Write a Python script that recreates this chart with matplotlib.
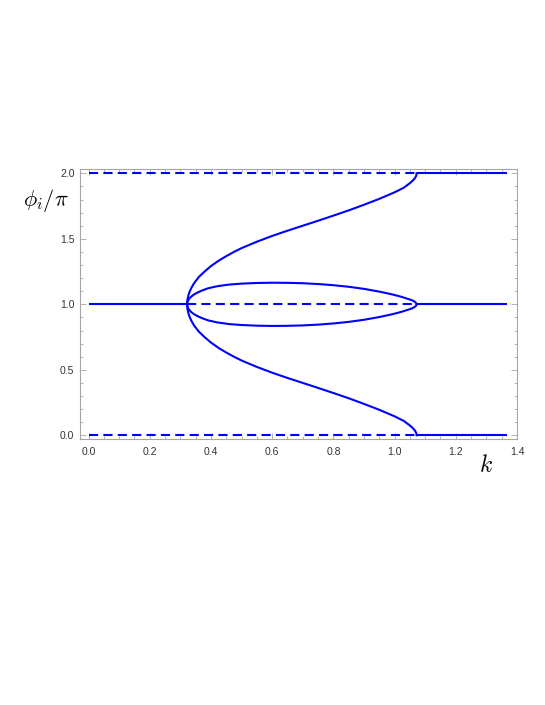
import matplotlib
matplotlib.use("Agg")
import matplotlib.pyplot as plt
from matplotlib.ticker import MultipleLocator

plt.rcParams['mathtext.fontset'] = 'cm'

# ---- data ----
k_bif = 0.322     # pitchfork point
k_end = 1.072     # end of loop / outer branches
k_max = 1.366

# outer upper branch
k_outer_up = [0.322, 0.323, 0.326, 0.330, 0.336, 0.345, 0.360, 0.380, 0.400, 0.425, 0.450,
              0.475, 0.500, 0.550, 0.600, 0.650, 0.700, 0.750, 0.800, 0.850, 0.900, 0.950,
              1.000, 1.030, 1.050, 1.060, 1.066, 1.070, 1.0715, 1.072]
phi_outer_up = [1.000, 1.034, 1.067, 1.095, 1.126, 1.162, 1.208, 1.252, 1.292, 1.333, 1.368,
                1.400, 1.429, 1.478, 1.522, 1.562, 1.600, 1.638, 1.677, 1.717, 1.760, 1.805,
                1.855, 1.890, 1.925, 1.946, 1.962, 1.978, 1.990, 2.000]
# outer lower branch
k_outer_lo = [0.322, 0.323, 0.326, 0.330, 0.336, 0.345, 0.360, 0.380, 0.400, 0.425, 0.450,
              0.475, 0.500, 0.550, 0.600, 0.650, 0.700, 0.750, 0.800, 0.850, 0.900, 0.950,
              1.000, 1.030, 1.050, 1.060, 1.066, 1.070, 1.0715, 1.072]
phi_outer_lo = [1.000, 0.966, 0.933, 0.905, 0.874, 0.838, 0.792, 0.748, 0.708, 0.667, 0.632,
                0.600, 0.571, 0.522, 0.478, 0.438, 0.400, 0.362, 0.323, 0.283, 0.240, 0.195,
                0.145, 0.110, 0.075, 0.054, 0.038, 0.022, 0.010, 0.000]

# inner loop (upper half)
k_inner_up = [0.322, 0.323, 0.325, 0.328, 0.332, 0.338, 0.346, 0.356, 0.370, 0.390, 0.420,
              0.460, 0.500, 0.550, 0.600, 0.650, 0.700, 0.750, 0.800, 0.850, 0.900,
              0.950, 0.990, 1.020, 1.040, 1.055, 1.063, 1.068, 1.0705, 1.0715, 1.072]
phi_inner_up = [1.000, 1.016, 1.028, 1.040, 1.051, 1.064, 1.077, 1.090, 1.105, 1.122, 1.138,
                1.151, 1.158, 1.163, 1.165, 1.164, 1.161, 1.155, 1.146, 1.134, 1.118,
                1.097, 1.077, 1.059, 1.044, 1.033, 1.024, 1.016, 1.009, 1.004, 1.000]
# inner loop (lower half)
k_inner_lo = [0.322, 0.323, 0.325, 0.328, 0.332, 0.338, 0.346, 0.356, 0.370, 0.390, 0.420,
              0.460, 0.500, 0.550, 0.600, 0.650, 0.700, 0.750, 0.800, 0.850, 0.900,
              0.950, 0.990, 1.020, 1.040, 1.055, 1.063, 1.068, 1.0705, 1.0715, 1.072]
phi_inner_lo = [1.000, 0.984, 0.972, 0.960, 0.949, 0.936, 0.923, 0.910, 0.895, 0.878, 0.862,
                0.849, 0.842, 0.837, 0.835, 0.836, 0.839, 0.845, 0.854, 0.866, 0.882,
                0.903, 0.923, 0.941, 0.956, 0.967, 0.976, 0.984, 0.991, 0.996, 1.000]

# straight solution lines: (k_start, k_stop, phi)
solid_lines = [(0.0, k_bif, 1.0), (k_end, k_max, 1.0), (k_end, k_max, 2.0), (k_end, k_max, 0.0)]
dashed_lines = [(0.0, k_end, 2.0), (0.0, k_end, 0.0), (k_bif, k_end, 1.0)]

x_ticks = [0.0, 0.2, 0.4, 0.6, 0.8, 1.0, 1.2, 1.4]
y_ticks = [0.0, 0.5, 1.0, 1.5, 2.0]

# ---- plot ----
fig = plt.figure(figsize=(5.45, 7.05), dpi=100)
ax = fig.add_axes([0.1468, 0.3773, 0.8018, 0.383])

blue = '#0000ff'
lw = 1.5
for k0, k1, p in solid_lines:
    ax.plot([k0, k1], [p, p], color=blue, lw=lw, solid_capstyle='butt')
for k0, k1, p in dashed_lines:
    ax.plot([k0, k1], [p, p], color=blue, lw=lw, dashes=(4.4, 2.5))
for kk, pp in [(k_outer_up, phi_outer_up), (k_outer_lo, phi_outer_lo),
               (k_inner_up, phi_inner_up), (k_inner_lo, phi_inner_lo)]:
    ax.plot(kk, pp, color=blue, lw=lw, solid_joinstyle='round')

ax.set_xlim(-0.028, 1.397)
ax.set_ylim(-0.028, 2.033)
ax.set_xticks(x_ticks)
ax.set_yticks(y_ticks)
ax.set_xticklabels([f"{v:.1f}" for v in x_ticks])
ax.set_yticklabels([f"{v:.1f}" for v in y_ticks])
ax.xaxis.set_minor_locator(MultipleLocator(0.05))
ax.yaxis.set_minor_locator(MultipleLocator(0.1))

frame_col = '#a6a6a6'
for s in ax.spines.values():
    s.set_color(frame_col)
    s.set_linewidth(0.8)
ax.tick_params(which='both', direction='in', top=True, right=True, color=frame_col,
               labelsize=7.5, labelcolor='#333333', width=0.6)
ax.tick_params(which='major', length=4)
ax.tick_params(which='minor', length=2.2)
ax.tick_params(axis='x', pad=6)
ax.tick_params(axis='y', pad=4)
for lab in ax.get_xticklabels() + ax.get_yticklabels():
    lab.set_family('Liberation Sans')

fig.text(46 / 545, 1 - 200 / 705, r'$\phi_i/\pi$', fontsize=16, ha='center', va='center')
fig.text(486 / 545, 1 - 465 / 705, r'$k$', fontsize=17, ha='center', va='center')

fig.savefig('out.png', dpi=100)
